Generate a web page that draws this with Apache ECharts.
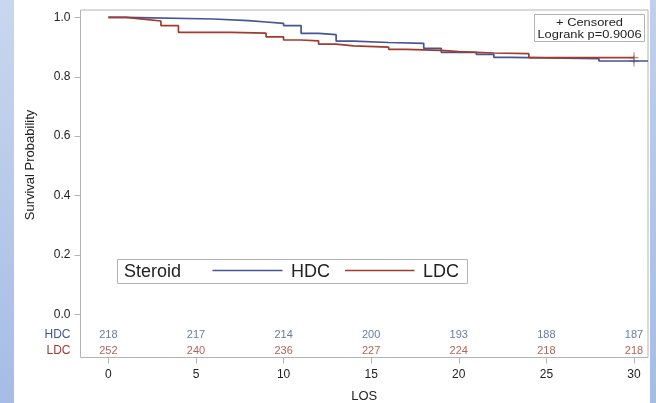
<!DOCTYPE html>
<html><head><meta charset="utf-8">
<script src="https://cdn.jsdelivr.net/npm/echarts@6/dist/echarts.min.js"></script>
<style>html,body{margin:0;padding:0;background:#fff}#c{width:656px;height:403px}</style>
</head><body><div id="c"></div>
<script>
// ---- data ----
const hdcTimes = [0, 1, 6, 8, 9, 10, 11, 12, 13, 14, 16, 18, 19, 21, 22, 23, 28, 30.8];
const hdcSurv  = [1, 0.9946, 0.9889, 0.9845, 0.9801, 0.9724, 0.9464, 0.9417, 0.9198, 0.9155, 0.9128, 0.8959, 0.8825, 0.8757, 0.8656, 0.8609, 0.8532, 0.8532];
const ldcTimes = [0, 1, 2, 3, 4, 7, 9, 10, 11, 12, 13, 14, 16, 17, 19, 20, 22, 24, 30];
const ldcSurv  = [1, 0.9939, 0.9879, 0.972, 0.9498, 0.9468, 0.9347, 0.9239, 0.9212, 0.9097, 0.9043, 0.8996, 0.8926, 0.8892, 0.8845, 0.8801, 0.8777, 0.8643, 0.8643];
const hdcCensor = [[30, 0.8532]];
const ldcCensor = [[30, 0.8643]];
const riskTimes = [0, 5, 10, 15, 20, 25, 30];
const hdcRisk = [218, 217, 214, 200, 193, 188, 187];
const ldcRisk = [252, 240, 236, 227, 224, 218, 218];
const xTicks = [0, 5, 10, 15, 20, 25, 30];
const yTicks = [0, 0.2, 0.4, 0.6, 0.8, 1.0];
const groupNames = ['HDC', 'LDC'];

// ---- layout / style ----
const HDC_ROW = -0.0687, LDC_ROW = -0.1226;
const BLUE = '#445694', RED = '#A23A2E';
const FONT = '"Liberation Sans", Arial, sans-serif';
const FRAME = '#b4b4b4';
const TXT = '#222';

const chart = echarts.init(document.getElementById('c'), null, {renderer: 'canvas'});
const plus = 'path://M9,0H11V20H9ZM0,9H20V11H0Z';

chart.setOption({
  backgroundColor: '#fff',
  animation: false,
  textStyle: {fontFamily: FONT},
  grid: {left: 80.5, right: 8, top: 10, bottom: 45.5, show: true, borderColor: FRAME, borderWidth: 1, backgroundColor: '#fff', containLabel: false, outerBoundsMode: 'none'},
  xAxis: {
    type: 'value', min: -1.59, max: 30.8,
    axisLine: {show: false, onZero: false},
    splitLine: {show: false},
    axisTick: {show: true, length: 6, customValues: xTicks, lineStyle: {color: FRAME}},
    axisLabel: {customValues: xTicks, margin: 11, fontSize: 12, color: TXT, fontFamily: FONT},
    name: 'LOS', nameLocation: 'middle', nameGap: 32,
    nameTextStyle: {fontSize: 13, color: TXT, fontFamily: FONT}
  },
  yAxis: {
    type: 'value', min: -0.1455, max: 1.0249,
    axisLine: {show: false, onZero: false},
    splitLine: {show: false},
    axisTick: {show: true, length: 6, customValues: yTicks, lineStyle: {color: FRAME}},
    axisLabel: {
      customValues: [LDC_ROW, HDC_ROW].concat(yTicks), margin: 10, fontSize: 12, color: TXT, fontFamily: FONT,
      formatter: v => Math.abs(v - HDC_ROW) < 1e-6 ? '{h|' + groupNames[0] + '}' : (Math.abs(v - LDC_ROW) < 1e-6 ? '{l|' + groupNames[1] + '}' : v.toFixed(1)),
      rich: {h: {color: BLUE, fontSize: 12, fontFamily: FONT}, l: {color: RED, fontSize: 12, fontFamily: FONT}}
    }
  },
  series: [
    {type: 'line', name: 'HDC', step: 'end', showSymbol: false, z: 3,
     data: hdcTimes.map((t, i) => [t, hdcSurv[i]]), lineStyle: {color: BLUE, width: 1.7}, itemStyle: {color: BLUE}},
    {type: 'line', name: 'LDC', step: 'end', showSymbol: false, z: 4,
     data: ldcTimes.map((t, i) => [t, ldcSurv[i]]), lineStyle: {color: RED, width: 1.7}, itemStyle: {color: RED}},
    {type: 'scatter', symbol: plus, symbolSize: [9, 11], data: hdcCensor, itemStyle: {color: BLUE}, z: 5},
    {type: 'scatter', symbol: plus, symbolSize: [9, 11], data: ldcCensor, itemStyle: {color: RED}, z: 6},
    {type: 'scatter', symbolSize: 0, data: riskTimes.map((t, i) => [t, HDC_ROW, hdcRisk[i]]),
     label: {show: true, position: 'inside', formatter: p => String(p.value[2]), color: BLUE, fontSize: 11, fontFamily: FONT}},
    {type: 'scatter', symbolSize: 0, data: riskTimes.map((t, i) => [t, LDC_ROW, ldcRisk[i]]),
     label: {show: true, position: 'inside', formatter: p => String(p.value[2]), color: RED, fontSize: 11, fontFamily: FONT}}
  ],
  graphic: [
    {type: 'rect', left: 0, top: 0, silent: true, z: -10, shape: {width: 14, height: 403},
     style: {fill: new echarts.graphic.LinearGradient(0, 0, 0, 1, [{offset: 0, color: '#c9d7ee'}, {offset: 1, color: '#a5bce5'}])}},
    {type: 'rect', left: 650, top: 0, silent: true, z: -10, shape: {width: 6, height: 403},
     style: {fill: new echarts.graphic.LinearGradient(0, 0, 0, 1, [{offset: 0, color: '#c0d0ec'}, {offset: 1, color: '#a5bce5'}])}},
    // y axis title
    {type: 'text', silent: true, z: 11, x: 30, y: 165, rotation: Math.PI / 2,
     style: {x: 0, y: 0, text: 'Survival Probability', fill: TXT, font: '13px ' + FONT, align: 'center', verticalAlign: 'middle'}},
    // legend
    {type: 'rect', silent: true, z: 10, shape: {x: 117.5, y: 259.5, width: 350, height: 24},
     style: {fill: '#fff', stroke: FRAME, lineWidth: 1}},
    {type: 'text', silent: true, z: 11, style: {x: 124, y: 272, text: 'Steroid', fill: TXT, font: '18px ' + FONT, verticalAlign: 'middle'}},
    {type: 'line', silent: true, z: 11, shape: {x1: 212.5, y1: 270.5, x2: 282.5, y2: 270.5}, style: {stroke: BLUE, lineWidth: 1.5}},
    {type: 'text', silent: true, z: 11, style: {x: 291, y: 272, text: groupNames[0], fill: TXT, font: '18px ' + FONT, verticalAlign: 'middle'}},
    {type: 'line', silent: true, z: 11, shape: {x1: 345, y1: 270.5, x2: 414.5, y2: 270.5}, style: {stroke: RED, lineWidth: 1.5}},
    {type: 'text', silent: true, z: 11, style: {x: 423, y: 272, text: groupNames[1], fill: TXT, font: '18px ' + FONT, verticalAlign: 'middle'}},
    // censored / logrank box
    {type: 'rect', silent: true, z: 10, shape: {x: 534.5, y: 14.5, width: 110, height: 27},
     style: {fill: '#fff', stroke: FRAME, lineWidth: 1}},
    {type: 'text', silent: true, z: 11, x: 589.5, y: 23, scaleX: 1.12,
     style: {x: 0, y: 0, text: '+ Censored', fill: TXT, font: '11.5px ' + FONT, align: 'center', verticalAlign: 'middle'}},
    {type: 'text', silent: true, z: 11, x: 589.5, y: 34.5, scaleX: 1.12,
     style: {x: 0, y: 0, text: 'Logrank p=0.9006', fill: TXT, font: '11.5px ' + FONT, align: 'center', verticalAlign: 'middle'}}
  ]
});
</script>
</body></html>
